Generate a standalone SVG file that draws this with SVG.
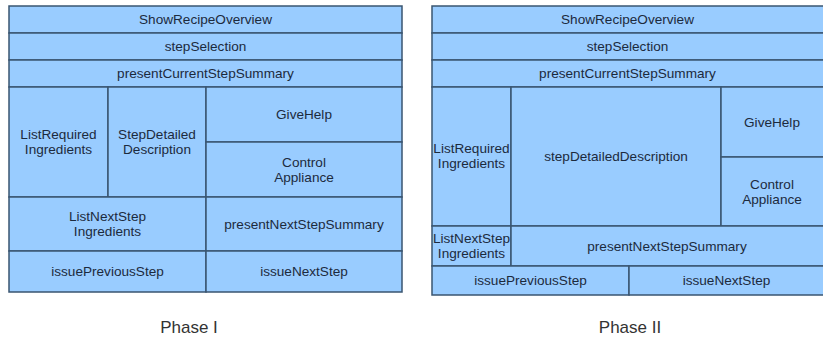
<svg xmlns="http://www.w3.org/2000/svg" width="823" height="338" viewBox="0 0 823 338">
<style>
  .cell { fill: #99ccff; stroke: #3a5571; stroke-width: 1.5; }
  .t { font-family: "Liberation Sans", Arial, sans-serif; font-size: 13.6px; fill: #1c2a3d; text-anchor: middle; }
  .cap { font-family: "Liberation Sans", Arial, sans-serif; font-size: 17px; fill: #333333; text-anchor: middle; }
</style>
<rect width="823" height="338" fill="#ffffff"/>
<g id="phase1">
  <g id="p1-showRecipeOverview"><rect class="cell" x="9" y="6" width="393" height="27"/><text class="t" x="205.5" y="24.3">ShowRecipeOverview</text></g>
  <g id="p1-stepSelection"><rect class="cell" x="9" y="33" width="393" height="27"/><text class="t" x="205.5" y="51.3">stepSelection</text></g>
  <g id="p1-presentCurrentStepSummary"><rect class="cell" x="9" y="60" width="393" height="27"/><text class="t" x="205.5" y="78.3">presentCurrentStepSummary</text></g>
  <g id="p1-listRequiredIngredients"><rect class="cell" x="9" y="87" width="99" height="110"/><text class="t" x="58.5" y="139.3">ListRequired</text><text class="t" x="58.5" y="154.3">Ingredients</text></g>
  <g id="p1-stepDetailedDescription"><rect class="cell" x="108" y="87" width="98" height="110"/><text class="t" x="157" y="139.3">StepDetailed</text><text class="t" x="157" y="154.3">Description</text></g>
  <g id="p1-giveHelp"><rect class="cell" x="206" y="87" width="196" height="55"/><text class="t" x="304" y="119.3">GiveHelp</text></g>
  <g id="p1-controlAppliance"><rect class="cell" x="206" y="142" width="196" height="55"/><text class="t" x="304" y="166.8">Control</text><text class="t" x="304" y="181.8">Appliance</text></g>
  <g id="p1-listNextStepIngredients"><rect class="cell" x="9" y="197" width="197" height="54"/><text class="t" x="107.5" y="221.3">ListNextStep</text><text class="t" x="107.5" y="236.3">Ingredients</text></g>
  <g id="p1-presentNextStepSummary"><rect class="cell" x="206" y="197" width="196" height="54"/><text class="t" x="304" y="228.8">presentNextStepSummary</text></g>
  <g id="p1-issuePreviousStep"><rect class="cell" x="9" y="251" width="197" height="41"/><text class="t" x="107.5" y="276.3">issuePreviousStep</text></g>
  <g id="p1-issueNextStep"><rect class="cell" x="206" y="251" width="196" height="41"/><text class="t" x="304" y="276.3">issueNextStep</text></g>
  <text class="cap" x="189" y="333">Phase I</text>
</g>
<g id="phase2">
  <g id="p2-showRecipeOverview"><rect class="cell" x="432" y="6" width="392" height="27"/><text class="t" x="627.5" y="24.3">ShowRecipeOverview</text></g>
  <g id="p2-stepSelection"><rect class="cell" x="432" y="33" width="392" height="27"/><text class="t" x="627.5" y="51.3">stepSelection</text></g>
  <g id="p2-presentCurrentStepSummary"><rect class="cell" x="432" y="60" width="392" height="27"/><text class="t" x="627.5" y="78.3">presentCurrentStepSummary</text></g>
  <g id="p2-listRequiredIngredients"><rect class="cell" x="432" y="87" width="79" height="139"/><text class="t" x="471.5" y="153.3">ListRequired</text><text class="t" x="471.5" y="168.3">Ingredients</text></g>
  <g id="p2-stepDetailedDescription"><rect class="cell" x="511" y="87" width="210" height="139"/><text class="t" x="616" y="161.3">stepDetailedDescription</text></g>
  <g id="p2-giveHelp"><rect class="cell" x="721" y="87" width="103" height="70"/><text class="t" x="772" y="126.8">GiveHelp</text></g>
  <g id="p2-controlAppliance"><rect class="cell" x="721" y="157" width="103" height="69"/><text class="t" x="772" y="188.8">Control</text><text class="t" x="772" y="203.8">Appliance</text></g>
  <g id="p2-listNextStepIngredients"><rect class="cell" x="432" y="226" width="79" height="40"/><text class="t" x="471.5" y="243.3">ListNextStep</text><text class="t" x="471.5" y="258.3">Ingredients</text></g>
  <g id="p2-presentNextStepSummary"><rect class="cell" x="511" y="226" width="313" height="40"/><text class="t" x="667" y="250.8">presentNextStepSummary</text></g>
  <g id="p2-issuePreviousStep"><rect class="cell" x="432" y="266" width="197" height="29"/><text class="t" x="530.5" y="285.3">issuePreviousStep</text></g>
  <g id="p2-issueNextStep"><rect class="cell" x="629" y="266" width="195" height="29"/><text class="t" x="726.5" y="285.3">issueNextStep</text></g>
  <text class="cap" x="630" y="333">Phase II</text>
</g>
</svg>
